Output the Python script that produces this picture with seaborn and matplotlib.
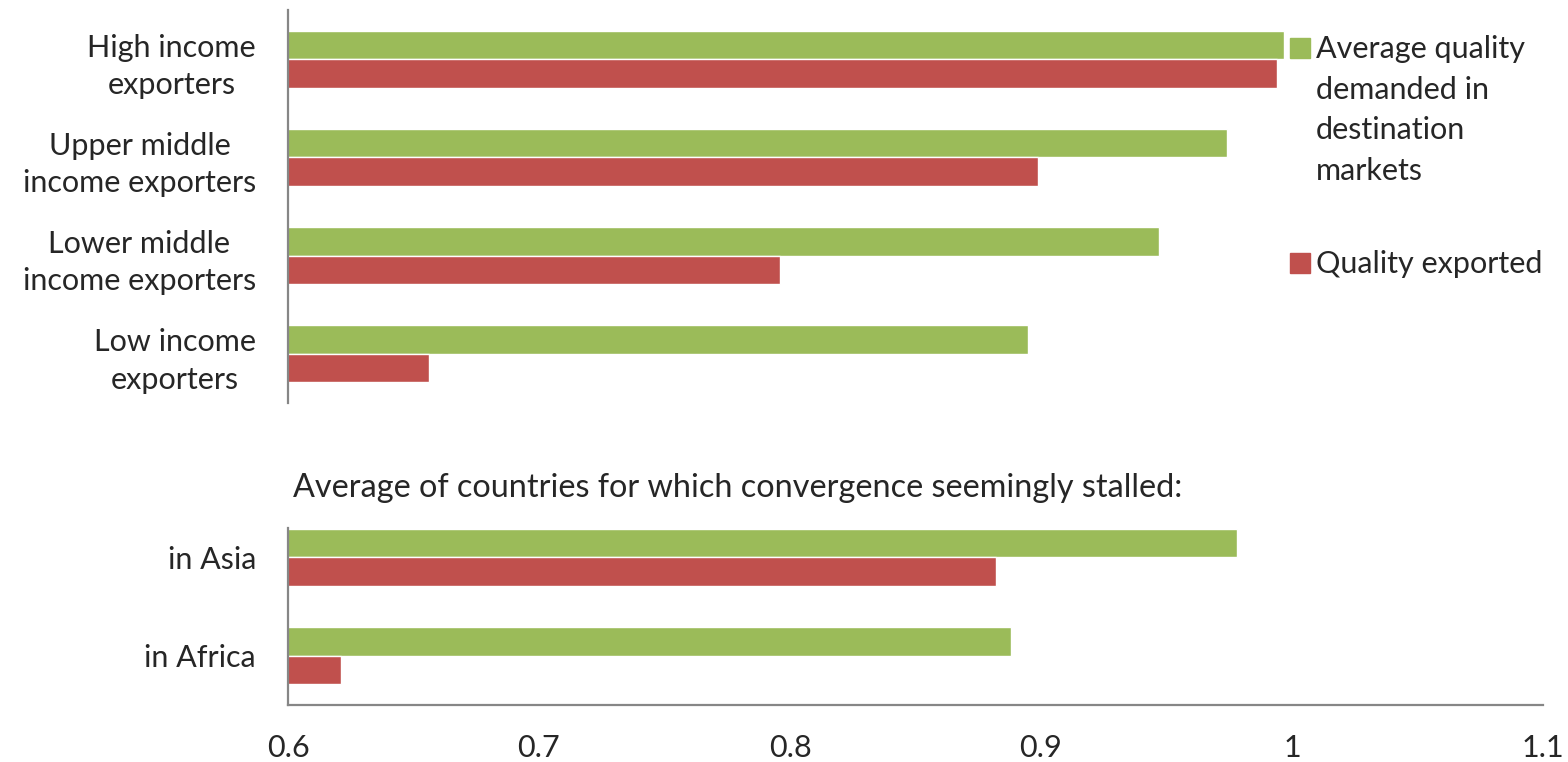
import numpy as np
import matplotlib.pyplot as plt
import matplotlib.patches as mpatches
import pandas as pd
import seaborn as sns

# values
income_groups = ["High income\nexporters", "Upper middle\nincome exporters",
                 "Lower middle\nincome exporters", "Low income\nexporters"]
income_demanded = [0.997, 0.974, 0.947, 0.895]
income_exported = [0.994, 0.899, 0.796, 0.656]

stalled_groups = ["in Asia", "in Africa"]
stalled_demanded = [0.978, 0.888]
stalled_exported = [0.882, 0.621]

series_names = ["Average quality\ndemanded in\ndestination\nmarkets", "Quality exported"]
series_colors = ["#9BBB59", "#C0504D"]
x_ticks = [0.6, 0.7, 0.8, 0.9, 1.0, 1.1]
x_ticklabels = ["0.6", "0.7", "0.8", "0.9", "1", "1.1"]
stalled_title = "Average of countries for which convergence seemingly stalled:"

sns.set_style("white")
plt.rcParams['font.family'] = ['Lato', 'DejaVu Sans']
FS = 22
SPINE = "#868686"


def long_form(groups, demanded, exported):
    return pd.DataFrame({
        "group": list(groups) * 2,
        "value": list(demanded) + list(exported),
        "series": [series_names[0]] * len(groups) + [series_names[1]] * len(groups),
    })


def draw(ax, df, groups):
    sns.barplot(data=df, y="group", x="value", hue="series", order=groups,
                hue_order=series_names, palette=series_colors, orient="h",
                width=0.58, saturation=1, legend=False, ax=ax)
    ax.set_xlim(0.6, 1.1)
    ax.set_ylim(len(groups) - 0.5, -0.5)
    ax.set_xlabel("")
    ax.set_ylabel("")
    for s in ["top", "right"]:
        ax.spines[s].set_visible(False)
    ax.spines["left"].set_color(SPINE)
    ax.spines["left"].set_linewidth(1.6)
    ax.tick_params(axis="y", length=0, pad=23, labelsize=FS)
    for lab in ax.get_yticklabels():
        lab.set_multialignment("center")
        lab.set_linespacing(1.4)
    ax.set_yticks(np.arange(len(groups) + 1) - 0.5, minor=True)
    ax.tick_params(axis="y", which="minor", length=8, width=1.6, color=SPINE)


fig = plt.figure(figsize=(15.68, 7.62), dpi=100)
W, H = 1568, 762
ax1 = fig.add_axes([288 / W, 1 - 403 / H, 1255 / W, 393 / H])
ax2 = fig.add_axes([288 / W, 1 - 705 / H, 1255 / W, 197 / H])

draw(ax1, long_form(income_groups, income_demanded, income_exported), income_groups)
draw(ax2, long_form(stalled_groups, stalled_demanded, stalled_exported), stalled_groups)

ax1.spines["bottom"].set_visible(False)
ax1.set_xticks([])
ax2.spines["left"].set_bounds(1.5, -0.3)
ax2.set_yticks([0.5, 1.5], minor=True)
ax2.spines["bottom"].set_color(SPINE)
ax2.spines["bottom"].set_linewidth(1.6)
ax2.set_xticks(x_ticks)
ax2.set_xticklabels(x_ticklabels)
ax2.tick_params(axis="x", length=8, width=1.6, color=SPINE, pad=13, labelsize=FS)

fig.text(293 / W, 1 - 488 / H, stalled_title, fontsize=23.3, ha="left", va="center")

# legend drawn by hand so the swatch sits on the first text line
legend_y = [48, 263]
for name, color, y in zip(series_names, series_colors, legend_y):
    fig.patches.append(mpatches.Rectangle((1290 / W, 1 - (y + 10) / H), 20 / W, 20 / H,
                                          transform=fig.transFigure, color=color))
    fig.text(1316 / W, 1 - (y - 13) / H, name, fontsize=FS, ha="left", va="top",
             linespacing=1.55)

fig.savefig("out.png", dpi=100)
